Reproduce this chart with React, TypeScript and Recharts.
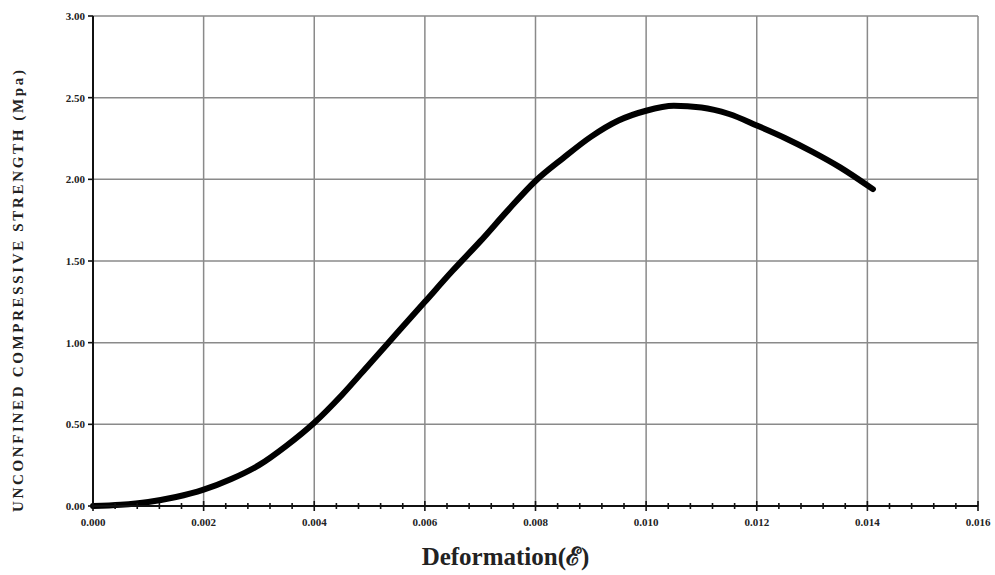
import React from 'react';
import { LineChart, Line, XAxis, YAxis, ReferenceLine } from 'recharts';

const strainValues = [0, 0.0005, 0.001, 0.0015, 0.002, 0.0025, 0.003, 0.0035, 0.004, 0.0045, 0.005, 0.0055, 0.006, 0.0065, 0.007, 0.0075, 0.008, 0.0085, 0.009, 0.0095, 0.01, 0.0105, 0.011, 0.0115, 0.012, 0.0125, 0.013, 0.0135, 0.0141];
const strengthValues = [0, 0.008, 0.025, 0.055, 0.1, 0.165, 0.25, 0.37, 0.51, 0.68, 0.87, 1.06, 1.25, 1.44, 1.62, 1.81, 1.99, 2.13, 2.26, 2.36, 2.42, 2.45, 2.44, 2.4, 2.33, 2.255, 2.17, 2.075, 1.94];

const xMajorTicks = [0, 0.002, 0.004, 0.006, 0.008, 0.01, 0.012, 0.014, 0.016];
const xMinorPerMajor = 5;
const yTicks = [0, 0.5, 1, 1.5, 2, 2.5, 3];

const xTitle = 'Deformation(\u2130)';
const yTitle = 'UNCONFINED COMPRESSIVE STRENGTH  (Mpa)';

const data = strainValues.map((x, i) => ({ x, y: strengthValues[i] }));

const allXTicks: number[] = [];
for (let i = 0; i < xMajorTicks.length - 1; i++) {
  const a = xMajorTicks[i];
  const b = xMajorTicks[i + 1];
  for (let k = 0; k < xMinorPerMajor; k++) {
    allXTicks.push(+(a + ((b - a) * k) / xMinorPerMajor).toFixed(6));
  }
}
allXTicks.push(xMajorTicks[xMajorTicks.length - 1]);

const FONT = '"Liberation Serif", "Times New Roman", serif';

const XTick = (props: any) => {
  const { x, y, payload } = props;
  const v = payload.value;
  const isMajor = xMajorTicks.some((t) => Math.abs(t - v) < 1e-7);
  return (
    <g>
      <line x1={x} x2={x} y1={y - (isMajor ? 5 : 3)} y2={y + (isMajor ? 5 : 3)} stroke="#111" strokeWidth={1.6} />
      {isMajor && (
        <text x={x} y={y + 20} textAnchor="middle" fontFamily={FONT} fontWeight="bold" fontSize={11} fill="#222">
          {v.toFixed(3)}
        </text>
      )}
    </g>
  );
};

export default function App() {
  return (
    <div style={{ position: 'absolute', left: 0, top: 0, background: '#fff' }}>
      <LineChart width={995} height={575} data={data} margin={{ top: 16, right: 17, left: 0, bottom: 0 }}>
        {yTicks.slice(1).map((t) => (
          <ReferenceLine key={'h' + t} y={t} stroke="#8a8a8a" strokeWidth={1.5} />
        ))}
        {xMajorTicks.slice(1).map((t) => (
          <ReferenceLine key={'v' + t} x={t} stroke="#8a8a8a" strokeWidth={1.5} />
        ))}
        <XAxis
          type="number"
          dataKey="x"
          domain={[0, 0.016]}
          ticks={allXTicks}
          interval={0}
          tickSize={0}
          tickMargin={0}
          tickLine={false}
          tick={<XTick />}
          height={69}
          axisLine={{ stroke: '#111', strokeWidth: 2 }}
          label={{
            content: (p: any) => {
              const vb = p.viewBox;
              return (
                <text
                  x={vb.x + vb.width / 2 - 30}
                  y={vb.y + vb.height - 10}
                  textAnchor="middle"
                  fontFamily={FONT}
                  fontWeight="bold"
                  fontSize={25}
                  fill="#222"
                >
                  {xTitle}
                </text>
              );
            },
          }}
        />
        <YAxis
          type="number"
          domain={[0, 3]}
          ticks={yTicks}
          interval={0}
          width={93}
          tickSize={5}
          tickMargin={3}
          tickLine={{ stroke: '#111', strokeWidth: 1.6 }}
          axisLine={{ stroke: '#111', strokeWidth: 2 }}
          tickFormatter={(v: number) => v.toFixed(2)}
          tick={{ fontFamily: FONT, fontWeight: 'bold', fontSize: 11, fill: '#222' }}
          label={{
            content: (p: any) => {
              const vb = p.viewBox;
              const cx = 23;
              const cy = vb.y + vb.height / 2 + 30;
              return (
                <text
                  x={cx}
                  y={cy}
                  transform={`rotate(-90 ${cx} ${cy})`}
                  textAnchor="middle"
                  fontFamily={FONT}
                  fontWeight="bold"
                  fontSize={15}
                  fill="#222"
                  textLength={442}
                  lengthAdjust="spacing"
                >
                  {yTitle}
                </text>
              );
            },
          }}
        />
        <Line
          type="monotone"
          dataKey="y"
          stroke="#000"
          strokeWidth={6}
          strokeLinecap="round"
          dot={false}
          isAnimationActive={false}
        />
      </LineChart>
    </div>
  );
}
